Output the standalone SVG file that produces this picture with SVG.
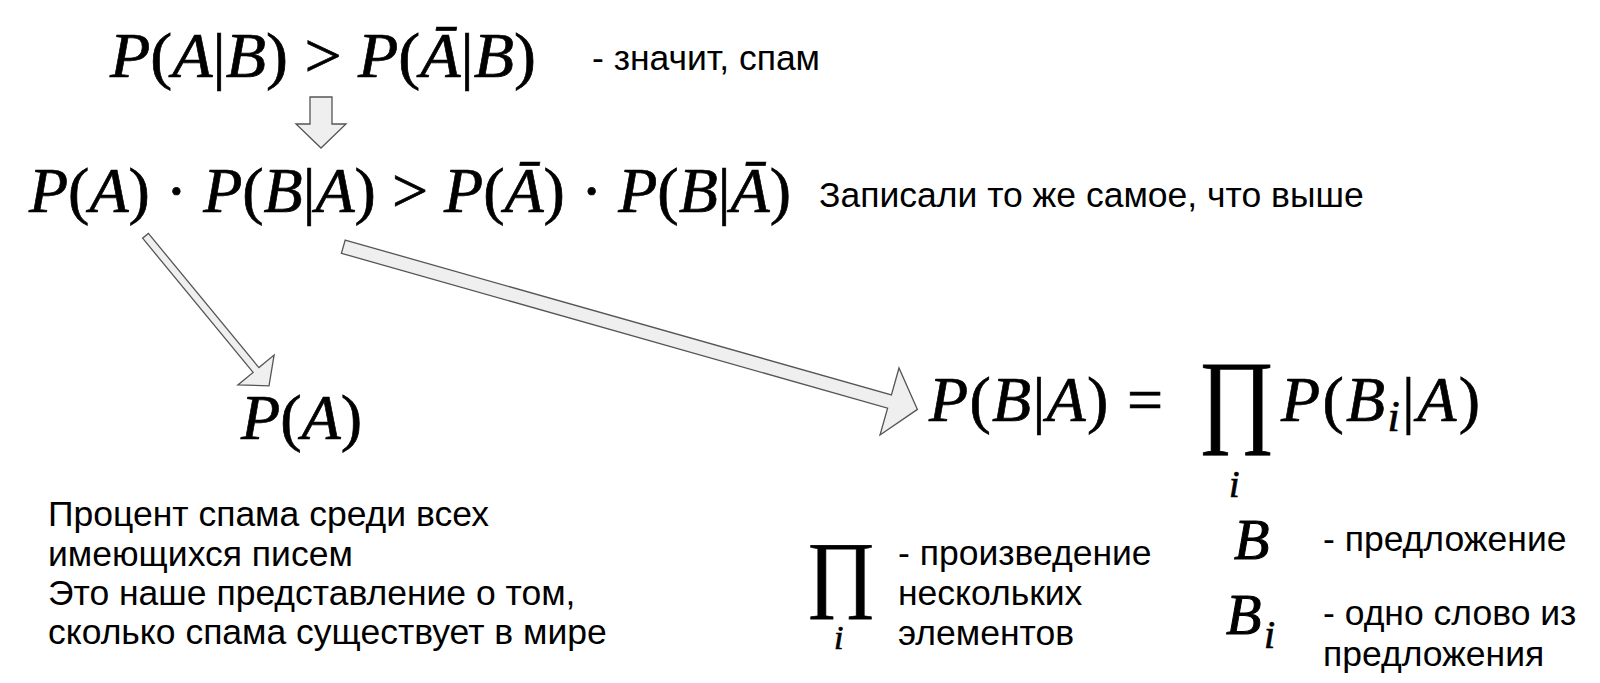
<svg xmlns="http://www.w3.org/2000/svg" width="1600" height="683" viewBox="0 0 1600 683">
  <style>
    .bg { fill: #ffffff; }
    .m { font-family: "Liberation Serif", "Times New Roman", serif; font-size: 64px; fill: #000; stroke: #000; stroke-width: 0.7; }
    .it { font-style: italic; }
    .t { font-family: "Liberation Sans", Arial, sans-serif; font-size: 35.5px; fill: #000; }
    .arrow { fill: #efefef; stroke: #555555; stroke-width: 1.3; stroke-linejoin: miter; }
  </style>
  <rect class="bg" x="0" y="0" width="1600" height="683"/>

  <g id="connectors">
    <polygon id="arrow-down" class="arrow" points="310,97 332,97 332,124 346,124 321,148 296,124 310,124"/>
    <polygon id="arrow-left" class="arrow" points="148.4,233.4 258.9,367.6 274.1,355.1 269,385.8 237.9,384.9 253.1,372.4 142.6,238.2"/>
    <polygon id="arrow-right" class="arrow" points="345.2,240.1 891.4,394.9 899,368 917.4,409.4 880,435 887.6,408.1 341.4,253.3"/>
  </g>

  <g id="node-condition">
    <text class="m" x="110" y="77" textLength="426" lengthAdjust="spacingAndGlyphs"><tspan class="it">P</tspan>(<tspan class="it">A</tspan>|<tspan class="it">B</tspan>) &gt; <tspan class="it">P</tspan>(<tspan class="it">Ā</tspan>|<tspan class="it">B</tspan>)</text>
    <text class="t" x="592" y="70">- значит, спам</text>
  </g>

  <g id="node-rewritten">
    <text class="m" x="29" y="212" textLength="762" lengthAdjust="spacingAndGlyphs"><tspan class="it">P</tspan>(<tspan class="it">A</tspan>) · <tspan class="it">P</tspan>(<tspan class="it">B</tspan>|<tspan class="it">A</tspan>) &gt; <tspan class="it">P</tspan>(<tspan class="it">Ā</tspan>) · <tspan class="it">P</tspan>(<tspan class="it">B</tspan>|<tspan class="it">Ā</tspan>)</text>
    <text class="t" x="819" y="207">Записали то же самое, что выше</text>
  </g>

  <g id="node-prior">
    <text class="m" x="241" y="439" textLength="121" lengthAdjust="spacingAndGlyphs"><tspan class="it">P</tspan>(<tspan class="it">A</tspan>)</text>
    <text class="t" x="48" y="526">Процент спама среди всех</text>
    <text class="t" x="48" y="566">имеющихся писем</text>
    <text class="t" x="48" y="605">Это наше представление о том,</text>
    <text class="t" x="48" y="644">сколько спама существует в мире</text>
  </g>

  <g id="node-likelihood">
    <text class="m" x="929" y="421" textLength="234" lengthAdjust="spacing"><tspan class="it">P</tspan>(<tspan class="it">B</tspan>|<tspan class="it">A</tspan>) =</text>
    <text class="m" transform="translate(1198,433) scale(0.9,1)" x="0" y="0" style="font-size:104px">∏</text>
    <text class="m it" x="1229" y="497" style="font-size:38px">i</text>
    <text class="m" x="1281" y="421" textLength="199" lengthAdjust="spacing"><tspan class="it">P</tspan>(<tspan class="it">B</tspan><tspan class="it" dy="10" style="font-size:44px">i</tspan><tspan dy="-10">|</tspan><tspan class="it">A</tspan>)</text>
  </g>

  <g id="legend-product">
    <text class="m" x="806" y="601" style="font-size:85px">∏</text>
    <text class="m it" x="834" y="649" style="font-size:34px">i</text>
    <text class="t" x="898" y="565">- произведение</text>
    <text class="t" x="898" y="605">нескольких</text>
    <text class="t" x="898" y="645">элементов</text>
  </g>

  <g id="legend-sentence">
    <text class="m it" x="1234" y="559" style="font-size:58px;stroke-width:1">B</text>
    <text class="t" x="1323" y="551">- предложение</text>
  </g>

  <g id="legend-word">
    <text class="m it" x="1226" y="634" style="font-size:58px;stroke-width:1">B</text>
    <text class="m it" x="1264" y="648" style="font-size:40px">i</text>
    <text class="t" x="1323" y="625">- одно слово из</text>
    <text class="t" x="1323" y="666">предложения</text>
  </g>
</svg>
